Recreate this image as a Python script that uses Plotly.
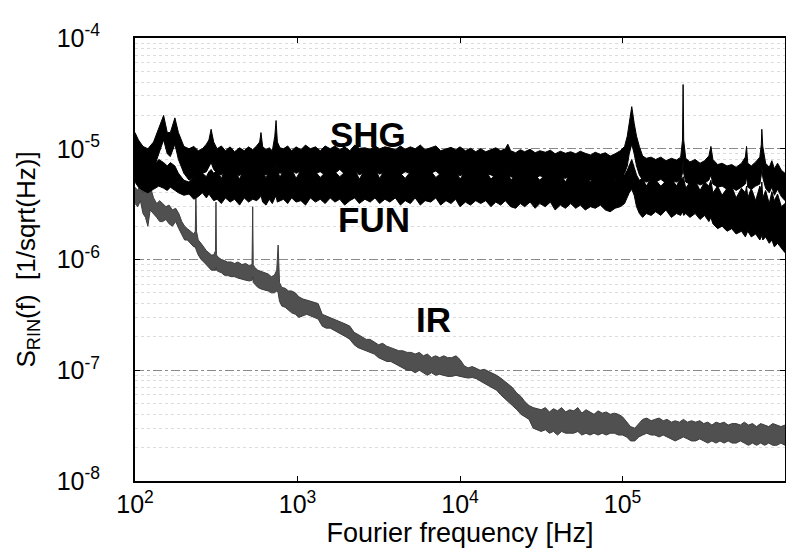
import numpy as np
import plotly.graph_objects as go

# ---------------- data (values in units of 1e-6 /sqrt(Hz)) ----------------
freq_band = [
    100, 105, 112, 120, 130, 140, 150, 158, 165, 176,
    185, 200, 215, 230, 245, 260, 275, 285, 294, 305,
    320, 340, 360, 385, 410, 440, 470, 500, 530, 560,
    585, 596, 610, 640, 670, 700, 725, 738, 752, 780,
    820, 870, 920, 980, 1050, 1120, 1200, 1290, 1380, 1480,
    1590, 1700, 1820, 1950, 2100, 2250, 2400, 2600, 2800, 3000,
    3200, 3450, 3700, 4000, 4300, 4600, 4950, 5300, 5700, 6100,
    6600, 7100, 7600, 8200, 8800, 9400, 1.0e4, 1.08e4, 1.16e4, 1.25e4,
    1.34e4, 1.44e4, 1.55e4, 1.66e4, 1.78e4, 1.9e4, 1.97e4, 2.05e4, 2.2e4, 2.35e4,
    2.5e4, 2.7e4, 2.9e4, 3.1e4, 3.35e4, 3.6e4, 3.85e4, 4.15e4, 4.45e4, 4.8e4,
    5.15e4, 5.5e4, 5.9e4, 6.35e4, 6.8e4, 7.3e4, 7.85e4, 8.4e4, 9.0e4, 9.7e4,
    1.03e5, 1.07e5, 1.1e5, 1.14e5, 1.18e5, 1.22e5, 1.27e5, 1.33e5, 1.4e5, 1.5e5,
    1.6e5, 1.72e5, 1.85e5, 2.0e5, 2.15e5, 2.28e5, 2.34e5, 2.36e5, 2.38e5, 2.45e5,
    2.6e5, 2.8e5, 3.0e5, 3.2e5, 3.4e5, 3.5e5, 3.6e5, 3.85e5, 4.1e5, 4.4e5,
    4.7e5, 5.0e5, 5.4e5, 5.7e5, 5.8e5, 5.9e5, 6.2e5, 6.6e5, 7.0e5, 7.15e5,
    7.2e5, 7.3e5, 7.6e5, 8.0e5, 8.3e5, 8.6e5, 9.0e5, 9.5e5, 1.0e6,
]

shg_hi = [
    14, 12, 10.5, 10, 11.5, 15, 20, 14, 14, 19,
    14, 10.5, 10, 10.5, 9.6, 10, 11, 12, 15, 11.5,
    10, 10.6, 9.6, 10.4, 9.4, 10.2, 9.6, 10.4, 9.8, 10.6,
    11.5, 14, 10.5, 9.8, 10.2, 9.6, 13, 18, 11.5, 10.2,
    10, 10.6, 9.6, 10.4, 9.8, 10.8, 10, 10.4, 9.6, 10.6,
    10, 10.6, 9.8, 10.4, 9.6, 10.8, 10.1, 10.2, 9.9, 10.6,
    10, 10.4, 10.2, 9.8, 10.6, 9.9, 10.4, 10, 10.8, 9.8,
    10.2, 10.6, 9.6, 10, 10.3, 9.8, 10.4, 9.6, 10.1, 9.4,
    10, 9.4, 9.8, 10.2, 9.6, 10, 11, 9.6, 9.2, 9.8,
    9.4, 9.9, 9.2, 9.6, 9.3, 9.7, 9.0, 9.5, 9.1, 9.4,
    9.0, 9.5, 9.1, 8.8, 9.3, 8.9, 9.2, 8.6, 9.0, 9.6,
    10.5, 13, 17, 24, 17, 13, 10.5, 8.6, 8.2, 8.4,
    8.0, 8.4, 7.8, 8.2, 7.9, 8.4, 12, 38, 12, 8.2,
    7.6, 8.0, 7.4, 7.8, 8.6, 10.5, 8.0, 7.2, 7.4, 7.0,
    7.2, 6.8, 7.4, 8.4, 10.5, 7.4, 7.0, 7.6, 8.4, 11,
    15, 10.5, 7.4, 6.8, 7.8, 6.6, 7.4, 6.4, 6.0,
]

shg_lo = [
    8, 7, 6, 6, 6.5, 9, 12, 9, 8.5, 11,
    8, 6, 5.2, 5.5, 5.8, 6, 6.2, 6.8, 7.5, 6.5,
    6, 5.8, 6.2, 5.6, 6.0, 5.7, 6.3, 5.8, 6.1, 6.0,
    6.4, 6.8, 6.0, 5.8, 6.2, 5.9, 6.6, 7.0, 6.2, 6.0,
    6.2, 5.8, 6.4, 6.0, 6.3, 5.9, 6.5, 6.0, 6.2, 5.8,
    6.3, 6.0, 6.5, 5.9, 6.2, 6.4, 5.8, 6.2, 6.0, 6.4,
    5.9, 6.2, 6.0, 6.4, 5.8, 6.2, 6.0, 6.5, 5.9, 6.1,
    6.0, 6.3, 5.8, 6.1, 5.9, 6.2, 5.7, 6.0, 5.8, 6.1,
    5.7, 6.0, 5.8, 5.6, 5.9, 5.7, 6.2, 5.6, 5.4, 5.8,
    5.5, 5.8, 5.4, 5.7, 5.5, 5.8, 5.3, 5.6, 5.4, 5.7,
    5.3, 5.6, 5.4, 5.2, 5.5, 5.3, 5.4, 5.1, 5.3, 5.5,
    6, 7, 9, 11, 9, 7, 5.8, 5.2, 5.0, 5.2,
    5.0, 5.3, 4.9, 5.2, 5.0, 5.3, 6, 8, 6, 5.0,
    4.8, 5.0, 4.7, 4.9, 5.2, 5.8, 4.8, 4.5, 4.6, 4.3,
    4.5, 4.2, 4.5, 4.8, 5.6, 4.5, 4.3, 4.6, 4.8, 5.8,
    7, 5.5, 4.4, 4.0, 4.5, 3.8, 4.3, 3.7, 3.4,
]

fun_hi = [
    9, 8, 7, 6.5, 7, 8, 7.5, 7, 7.5, 7,
    6, 5.2, 5.0, 5.5, 5.8, 6.0, 5.6, 6.2, 6.5, 6.0,
    6.4, 5.4, 6.6, 6.2, 6.5, 5.3, 6.7, 6.2, 6.4, 6.6,
    6.8, 7.0, 6.4, 5.4, 6.6, 6.2, 6.7, 6.8, 6.4, 5.5,
    6.5, 6.1, 6.6, 5.4, 6.4, 6.0, 6.7, 6.2, 5.5, 6.1,
    6.6, 6.2, 5.6, 6.1, 6.4, 6.6, 5.3, 6.5, 6.2, 6.7,
    5.4, 6.5, 6.3, 6.7, 6.0, 5.4, 6.2, 6.8, 6.1, 6.4,
    6.3, 5.5, 6.0, 6.4, 6.2, 6.5, 5.3, 6.3, 6.1, 6.4,
    6.1, 6.4, 5.3, 6.0, 6.3, 6.1, 6.5, 5.2, 5.8, 6.2,
    5.9, 6.2, 5.8, 5.2, 5.9, 6.2, 5.7, 6.0, 5.0, 6.1,
    5.7, 6.0, 5.8, 5.0, 5.9, 5.7, 5.8, 5.5, 5.2, 5.9,
    5.8, 6.4, 7.0, 8.0, 6.8, 5.8, 5.2, 5.4, 4.6, 5.4,
    5.2, 4.6, 5.1, 5.4, 4.6, 5.5, 5.3, 5.6, 5.4, 4.4,
    5.0, 5.2, 4.2, 5.0, 4.6, 5.2, 4.0, 4.6, 3.8, 4.4,
    4.6, 3.6, 4.4, 4.0, 4.6, 3.6, 4.4, 3.4, 4.6, 4.2,
    5.0, 3.6, 4.2, 3.2, 4.1, 3.4, 3.9, 3.0, 3.2,
]

fun_lo = [
    5, 4.5, 4.2, 4.0, 4.3, 4.6, 4.4, 4.2, 4.5, 4.2,
    4.0, 3.8, 3.9, 3.5, 3.7, 4.0, 3.6, 3.9, 3.7, 3.4,
    3.5, 3.2, 3.6, 3.3, 3.5, 3.1, 3.6, 3.3, 3.5, 3.4,
    3.6, 3.8, 3.3, 3.1, 3.5, 3.2, 3.6, 3.7, 3.3, 3.4,
    3.5, 3.2, 3.6, 3.3, 3.4, 3.1, 3.6, 3.3, 3.5, 3.2,
    3.6, 3.3, 3.5, 3.1, 3.4, 3.6, 3.2, 3.5, 3.3, 3.6,
    3.2, 3.5, 3.3, 3.6, 3.1, 3.4, 3.2, 3.6, 3.1, 3.4,
    3.3, 3.6, 3.1, 3.4, 3.2, 3.5, 3.0, 3.3, 3.1, 3.4,
    3.2, 3.4, 3.0, 3.3, 3.1, 3.4, 3.2, 3.0, 2.9, 3.2,
    3.0, 3.3, 2.9, 3.2, 3.0, 3.3, 2.8, 3.1, 2.9, 3.2,
    2.9, 3.1, 2.8, 3.0, 2.9, 3.1, 2.8, 2.7, 2.9, 3.0,
    3.2, 3.6, 4.0, 4.3, 3.8, 3.0, 2.6, 2.4, 2.6, 2.5,
    2.7, 2.5, 2.8, 2.4, 2.6, 2.5, 2.7, 2.6, 2.5, 2.6,
    2.4, 2.6, 2.3, 2.5, 2.2, 2.4, 2.1, 1.9, 2.0, 1.8,
    1.9, 1.7, 1.8, 1.6, 1.7, 1.8, 1.6, 1.7, 1.5, 1.6,
    1.7, 1.5, 1.6, 1.4, 1.5, 1.3, 1.4, 1.25, 1.15,
]

freq_ir = [
    100, 104, 108, 112, 116, 120, 124, 130, 136, 142,
    148, 155, 162, 170, 178, 186, 194, 202, 210, 220,
    230, 235, 237, 239, 245, 255, 265, 275, 285, 295,
    305, 313, 315, 317, 325, 340, 355, 370, 390, 410,
    430, 455, 480, 505, 525, 530, 534, 545, 570, 600,
    630, 660, 690, 720, 745, 760, 775, 800, 840, 880,
    920, 970, 1020, 1080, 1140, 1200, 1270, 1340, 1420, 1500,
    1590, 1680, 1780, 1880, 1990, 2100, 2230, 2360, 2500, 2650,
    2800, 2970, 3150, 3340, 3540, 3750, 3970, 4200, 4450, 4720,
    5000, 5300, 5620, 5950, 6300, 6680, 7080, 7500, 7950, 8400,
    8900, 9450, 1.0e4, 1.06e4, 1.12e4, 1.19e4, 1.26e4, 1.33e4, 1.41e4, 1.5e4,
    1.58e4, 1.68e4, 1.78e4, 1.88e4, 2.0e4, 2.1e4, 2.24e4, 2.37e4, 2.51e4, 2.66e4,
    2.82e4, 2.99e4, 3.16e4, 3.35e4, 3.55e4, 3.76e4, 3.98e4, 4.22e4, 4.47e4, 4.73e4,
    5.01e4, 5.31e4, 5.62e4, 5.96e4, 6.31e4, 6.68e4, 7.08e4, 7.5e4, 7.94e4, 8.41e4,
    8.91e4, 9.44e4, 1.0e5, 1.06e5, 1.12e5, 1.19e5, 1.26e5, 1.33e5, 1.41e5, 1.5e5,
    1.58e5, 1.68e5, 1.78e5, 1.88e5, 2.0e5, 2.11e5, 2.24e5, 2.37e5, 2.51e5, 2.66e5,
    2.82e5, 2.99e5, 3.16e5, 3.35e5, 3.55e5, 3.76e5, 3.98e5, 4.22e5, 4.47e5, 4.73e5,
    5.01e5, 5.31e5, 5.62e5, 5.96e5, 6.31e5, 6.68e5, 7.08e5, 7.5e5, 7.94e5, 8.41e5,
    8.91e5, 9.44e5, 1.0e6,
]

ir_hi = [
    4.5, 4.2, 4.8, 4.0, 4.4, 5.0, 4.6, 3.6, 3.2, 3.4,
    3.2, 3.0, 3.1, 2.8, 2.9, 2.6, 2.2, 2.0, 1.9, 1.8,
    1.7, 1.8, 4.0, 1.8, 1.5, 1.4, 1.3, 1.2, 1.15, 1.1,
    1.1, 1.2, 3.3, 1.1, 1.05, 1.0, 0.98, 0.95, 0.95, 0.92,
    0.95, 0.9, 0.92, 0.88, 0.9, 3.0, 0.9, 0.85, 0.8, 0.78,
    0.76, 0.74, 0.7, 0.72, 0.8, 1.35, 0.62, 0.56, 0.55, 0.52,
    0.52, 0.5, 0.46, 0.44, 0.43, 0.42, 0.41, 0.4, 0.32, 0.31,
    0.3, 0.29, 0.28, 0.27, 0.26, 0.25, 0.22, 0.21, 0.2, 0.19,
    0.19, 0.18, 0.17, 0.175, 0.165, 0.16, 0.155, 0.15, 0.15, 0.145,
    0.145, 0.14, 0.145, 0.135, 0.14, 0.13, 0.135, 0.13, 0.135, 0.13,
    0.13, 0.135, 0.125, 0.11, 0.105, 0.108, 0.104, 0.1, 0.102, 0.098,
    0.095, 0.09, 0.085, 0.08, 0.075, 0.07, 0.062, 0.058, 0.052, 0.048,
    0.046, 0.045, 0.044, 0.046, 0.042, 0.045, 0.043, 0.046, 0.042, 0.044,
    0.043, 0.046, 0.041, 0.044, 0.042, 0.04, 0.043, 0.041, 0.042, 0.04,
    0.041, 0.04, 0.038, 0.034, 0.031, 0.03, 0.033, 0.036, 0.037, 0.035,
    0.036, 0.037, 0.035, 0.036, 0.034, 0.035, 0.034, 0.036, 0.034, 0.035,
    0.034, 0.035, 0.033, 0.034, 0.032, 0.034, 0.033, 0.034, 0.032, 0.033,
    0.033, 0.032, 0.034, 0.032, 0.033, 0.031, 0.033, 0.032, 0.031, 0.033,
    0.032, 0.031, 0.032,
]

ir_lo = [
    3.2, 3.0, 3.4, 2.6, 2.4, 2.0, 2.8, 2.6, 2.4, 2.2,
    2.2, 2.3, 2.1, 2.0, 2.2, 1.9, 1.7, 1.5, 1.5, 1.4,
    1.3, 1.3, 1.2, 1.2, 1.1, 1.0, 0.95, 0.9, 0.85, 0.8,
    0.8, 0.8, 0.85, 0.8, 0.78, 0.76, 0.72, 0.72, 0.7, 0.7,
    0.68, 0.66, 0.65, 0.64, 0.65, 0.7, 0.62, 0.6, 0.56, 0.54,
    0.53, 0.52, 0.5, 0.5, 0.52, 0.5, 0.42, 0.38, 0.37, 0.35,
    0.33, 0.32, 0.3, 0.31, 0.32, 0.31, 0.3, 0.29, 0.25, 0.24,
    0.24, 0.23, 0.22, 0.21, 0.2, 0.19, 0.17, 0.16, 0.155, 0.15,
    0.145, 0.14, 0.13, 0.125, 0.12, 0.12, 0.115, 0.11, 0.105, 0.1,
    0.1, 0.095, 0.1, 0.095, 0.09, 0.095, 0.09, 0.092, 0.09, 0.088,
    0.088, 0.09, 0.088, 0.086, 0.085, 0.086, 0.084, 0.08, 0.076, 0.072,
    0.07, 0.066, 0.06, 0.056, 0.052, 0.048, 0.044, 0.04, 0.038, 0.036,
    0.03, 0.029, 0.028, 0.029, 0.027, 0.028, 0.026, 0.028, 0.027, 0.027,
    0.027, 0.028, 0.026, 0.027, 0.026, 0.027, 0.026, 0.027, 0.026, 0.027,
    0.027, 0.026, 0.026, 0.025, 0.023, 0.023, 0.025, 0.026, 0.027, 0.026,
    0.026, 0.025, 0.026, 0.025, 0.024, 0.023, 0.024, 0.025, 0.024, 0.023,
    0.023, 0.024, 0.023, 0.022, 0.023, 0.022, 0.023, 0.022, 0.023, 0.022,
    0.022, 0.023, 0.022, 0.021, 0.022, 0.021, 0.022, 0.021, 0.022, 0.021,
    0.021, 0.022, 0.021,
]

curve_labels = ["SHG", "FUN", "IR"]
label_freq = [2716, 2958, 6823]
label_value = [1.343e-5, 2.31e-6, 2.86e-7]

y_tick_values = [1e-8, 1e-7, 1e-6, 1e-5, 1e-4]
y_tick_text = ["10<sup>-8</sup>", "10<sup>-7</sup>", "10<sup>-6</sup>",
               "10<sup>-5</sup>", "10<sup>-4</sup>"]
x_tick_values = [1e2, 1e3, 1e4, 1e5, 1e6]
x_tick_text = ["10<sup>2</sup>", "10<sup>3</sup>", "10<sup>4</sup>",
               "10<sup>5</sup>", "10<sup>6</sup>"]
y_minor_values = [m * 10.0 ** e for e in range(-8, -4) for m in range(2, 10)]

UNIT = 1e-6
FONT = "Liberation Sans, Arial, Helvetica, sans-serif"


def band(fr, lo, hi, name, line_col, fill_col):
    n = min(len(fr), len(lo), len(hi))
    f = fr[:n]
    lo_v = [v * UNIT for v in lo[:n]]
    hi_v = [v * UNIT for v in hi[:n]]
    return [
        go.Scatter(x=f, y=lo_v, mode="lines", name=name + " low",
                   line=dict(color=line_col, width=1), showlegend=False,
                   hoverinfo="skip"),
        go.Scatter(x=f, y=hi_v, mode="lines", name=name, fill="tonexty",
                   fillcolor=fill_col, line=dict(color=line_col, width=1),
                   showlegend=False),
    ]


fig = go.Figure()
for tr in band(freq_ir, ir_lo, ir_hi, "IR", "#3c3c3c", "#505050"):
    fig.add_trace(tr)
for tr in band(freq_band, fun_lo, fun_hi, "FUN", "#000000", "#000000"):
    fig.add_trace(tr)
for tr in band(freq_band, shg_lo, shg_hi, "SHG", "#000000", "#000000"):
    fig.add_trace(tr)

for txt, fx, fy in zip(curve_labels, label_freq, label_value):
    fig.add_annotation(x=np.log10(fx), y=np.log10(fy), text="<b>" + txt + "</b>",
                       showarrow=False, xanchor="center", yanchor="middle",
                       font=dict(family=FONT, size=35, color="black"))

fig.update_xaxes(
    type="log", range=[2, 6], tickvals=x_tick_values, ticktext=x_tick_text,
    showline=True, linecolor="black", linewidth=2,
    mirror="allticks", ticks="inside", ticklen=5, tickcolor="black",
    showgrid=False, zeroline=False,
    tickfont=dict(family=FONT, size=25, color="black"),
    title=dict(text="Fourier frequency [Hz]", standoff=4,
               font=dict(family=FONT, size=27, color="black")),
)
fig.update_yaxes(
    type="log", range=[-8, -4], tickvals=y_tick_values, ticktext=y_tick_text,
    showline=True, linecolor="black", linewidth=2,
    mirror="allticks", ticks="inside", ticklen=5, tickcolor="black",
    showgrid=True, gridcolor="#8a8a8a", griddash="dashdot", gridwidth=1,
    minor=dict(tickvals=y_minor_values, showgrid=True, gridcolor="#dcdcdc",
               griddash="dot", gridwidth=1, ticks=""),
    zeroline=False, ticklabelstandoff=28,
    tickfont=dict(family=FONT, size=25, color="black"),
    title=dict(text="S<sub>RIN</sub>(f)  [1/sqrt(Hz)]", standoff=14,
               font=dict(family=FONT, size=26, color="black")),
)

fig.update_layout(
    width=794, height=548,
    margin=dict(l=127, r=17, t=28, b=75),
    paper_bgcolor="white", plot_bgcolor="white",
    showlegend=False,
)

fig.write_html("out.html")
